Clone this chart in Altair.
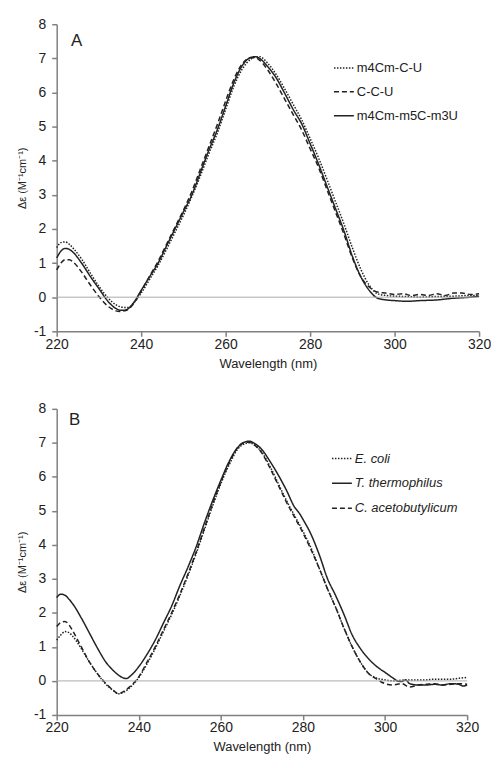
import altair as alt
import pandas as pd

# ---------------- Panel A data ----------------
wl_a_solid = [220,221,222,223,224,226,228,230,232,234,235,236,237,238,240,242,244,246,248,250,252,254,256,258,260,262,264,266,267,268,270,272,274,276,278,280,282,284,286,288,290,292,294,296,298,300,303,306,310,314,318,320]
a_solid = [1.15,1.35,1.43,1.4,1.3,0.98,0.6,0.25,-0.1,-0.33,-0.38,-0.38,-0.33,-0.2,0.2,0.6,1.0,1.5,2.0,2.5,3.0,3.65,4.3,4.9,5.6,6.3,6.8,7.03,7.05,7.0,6.75,6.42,5.97,5.5,5.08,4.5,3.9,3.25,2.6,1.95,1.2,0.6,0.2,-0.03,-0.08,-0.1,-0.12,-0.1,-0.08,-0.03,0.0,0.03]

wl_a_dot = [220,221,222,223,224,226,228,230,232,234,235,236,237,238,240,242,244,246,248,250,252,254,256,258,260,262,264,266,267,268,270,272,274,276,278,280,282,284,286,288,290,292,294,296,298,300,303,306,310,314,318,320]
a_dot = [1.45,1.6,1.62,1.55,1.42,1.1,0.7,0.32,0.0,-0.22,-0.28,-0.3,-0.3,-0.2,0.12,0.52,0.93,1.4,1.9,2.4,2.95,3.55,4.2,4.8,5.5,6.2,6.7,6.98,7.04,7.05,6.85,6.52,6.1,5.65,5.2,4.65,4.08,3.45,2.8,2.15,1.45,0.82,0.35,0.1,0.05,0.03,0.02,0.0,0.02,0.03,0.05,0.05]

wl_a_dash = [220,221,222,223,224,226,228,230,232,234,235,236,237,238,240,242,244,246,248,250,252,254,256,258,260,262,264,266,267,268,270,272,274,276,278,280,282,284,286,288,290,292,294,296,298,300,302,304,306,308,310,312,314,316,318,320]
a_dash = [0.8,1.0,1.1,1.1,1.02,0.72,0.35,0.02,-0.25,-0.4,-0.42,-0.4,-0.35,-0.22,0.18,0.62,1.05,1.55,2.05,2.55,3.1,3.75,4.4,5.05,5.75,6.4,6.85,7.02,7.02,6.95,6.65,6.25,5.8,5.35,4.9,4.35,3.8,3.15,2.5,1.85,1.15,0.6,0.3,0.15,0.12,0.08,0.1,0.05,0.08,0.05,0.1,0.05,0.12,0.12,0.08,0.1]

series_a = ["m4Cm-C-U", "C-C-U", "m4Cm-m5C-m3U"]

# ---------------- Panel B data ----------------
wl_b_solid = [220,221,222,223,224,226,228,230,232,234,236,237,238,240,242,244,246,248,250,252,254,256,258,260,262,264,266,267,268,270,272,274,276,278,279,280,282,284,286,288,290,292,294,296,298,300,302,303,304,305,306,308,310,312,314,316,318,319,320]
b_solid = [2.45,2.55,2.52,2.4,2.25,1.85,1.4,0.95,0.55,0.28,0.1,0.07,0.15,0.42,0.78,1.2,1.7,2.2,2.8,3.35,3.95,4.65,5.3,5.9,6.45,6.85,7.03,7.05,7.0,6.8,6.45,6.05,5.6,5.1,4.95,4.75,4.3,3.7,3.0,2.5,1.95,1.35,0.95,0.65,0.42,0.25,0.08,0.0,-0.02,0.03,-0.08,-0.12,-0.12,-0.1,-0.12,-0.08,-0.1,-0.15,-0.12]

wl_b_dash = [220,221,222,223,224,226,228,230,232,234,235,236,238,240,242,244,246,248,250,252,254,256,258,260,262,264,266,267,268,270,272,274,276,278,280,282,284,286,288,290,292,294,296,298,300,302,304,306,308,310,312,314,316,318,320]
b_dash = [1.6,1.72,1.75,1.65,1.45,1.0,0.55,0.2,-0.08,-0.3,-0.38,-0.33,-0.15,0.12,0.55,1.0,1.5,2.0,2.55,3.15,3.8,4.5,5.2,5.85,6.4,6.85,7.02,7.02,6.95,6.7,6.25,5.75,5.25,4.8,4.35,3.85,3.3,2.7,2.15,1.55,1.0,0.55,0.22,0.05,-0.08,-0.12,-0.08,-0.18,-0.12,-0.1,-0.08,-0.12,-0.1,-0.08,-0.1]

wl_b_dot = [220,221,222,223,224,226,228,230,232,234,235,236,238,240,242,244,246,248,250,252,254,256,258,260,262,264,266,267,268,270,272,274,276,278,280,282,284,286,288,290,292,294,296,298,300,302,304,306,308,310,312,314,316,318,320]
b_dot = [1.2,1.35,1.45,1.42,1.3,0.95,0.55,0.2,-0.1,-0.3,-0.38,-0.35,-0.18,0.1,0.5,0.95,1.45,1.95,2.5,3.1,3.75,4.45,5.15,5.8,6.35,6.8,6.98,7.0,6.95,6.72,6.3,5.8,5.3,4.85,4.4,3.9,3.3,2.7,2.15,1.55,1.0,0.55,0.22,0.08,0.03,0.0,0.02,0.03,0.03,0.03,0.05,0.05,0.05,0.08,0.1]

series_b = ["E. coli", "T. thermophilus", "C. acetobutylicum"]

x_ticks = [220, 240, 260, 280, 300, 320]
y_ticks = [-1, 0, 1, 2, 3, 4, 5, 6, 7, 8]

DOT = [1.5, 1.5]
DASH = [5, 3]
SOLID = [1, 0]

FONT = "Liberation Sans"
Y_TITLE = "\u0394\u03b5 (M\u207b\u00b9cm\u207b\u00b9)"


def frame(pairs):
    rows = []
    for name, xs, ys in pairs:
        for x, y in zip(xs, ys):
            rows.append({"series": name, "wl": x, "de": y})
    return pd.DataFrame(rows)


df_a = frame([(series_a[0], wl_a_dot, a_dot),
              (series_a[1], wl_a_dash, a_dash),
              (series_a[2], wl_a_solid, a_solid)])
df_b = frame([(series_b[0], wl_b_dot, b_dot),
              (series_b[1], wl_b_solid, b_solid),
              (series_b[2], wl_b_dash, b_dash)])

one = pd.DataFrame({"k": [0]})


def panel(df, names, dashes, letter, w, h, lx, ly, rowpad, italic, letter_xy):
    xaxis = alt.Axis(values=x_ticks, title="Wavelength (nm)", labelFlush=False, grid=False,
                     tickSize=5, labelPadding=1, titlePadding=6, labelOverlap=False,
                     labelExpr="datum.value + ''")
    yaxis = alt.Axis(values=y_ticks, tickCount=10, title=Y_TITLE, grid=False, tickSize=5,
                     labelPadding=6, titlePadding=6, titleFontSize=11, titleFontWeight="normal",
                     labelOverlap=False, labelSeparation=0, labelExpr="datum.value + ''")
    legend = alt.Legend(orient="none", legendX=lx, legendY=ly, title=None,
                        symbolType="stroke", symbolSize=400, symbolStrokeWidth=1.5,
                        symbolStrokeColor="#222", labelFontSize=13, labelFont=FONT,
                        labelColor="#222", labelOffset=2, rowPadding=rowpad, padding=0,
                        labelFontStyle="italic" if italic else "normal")
    lines = alt.Chart(df).mark_line(color="#222", strokeWidth=1.5, interpolate="monotone").encode(
        x=alt.X("wl:Q", scale=alt.Scale(domain=[220, 320], nice=False), axis=xaxis),
        y=alt.Y("de:Q", scale=alt.Scale(domain=[-1, 8], nice=False), axis=yaxis),
        strokeDash=alt.StrokeDash("series:N", scale=alt.Scale(domain=names, range=dashes),
                                  sort=names, legend=legend),
        detail="series:N",
    )
    zero = alt.Chart(one).mark_rule(color="#aaaaaa", strokeWidth=1).encode(y=alt.datum(0))
    label = alt.Chart(one).mark_text(fontSize=17, font=FONT, color="#222").encode(
        x=alt.value(letter_xy[0]), y=alt.value(letter_xy[1]), text=alt.value(letter))
    return alt.layer(lines, zero, label).properties(width=w, height=h)


pa = panel(df_a, series_a, [DOT, DASH, SOLID], "A", 425, 309, 278, 33, 6, False, (20, 17))
pb = panel(df_b, series_b, [DOT, SOLID, DASH], "B", 413, 308, 276, 39, 7, True, (18, 11))

chart = alt.vconcat(pa, pb, spacing=32).resolve_scale(strokeDash="independent").resolve_legend(
    strokeDash="independent"
).properties(padding={"left": 8, "top": 7, "right": 0, "bottom": 0}).configure_view(
    stroke=None
).configure_axis(
    domainColor="#808080", domainWidth=1.5, tickColor="#808080", tickWidth=1.5,
    labelFont=FONT, labelFontSize=14, labelColor="#222", titleFont=FONT,
    titleFontSize=13, titleColor="#222", titleFontWeight="normal"
).configure_axisY(labelOverlap=False)

chart.save("out.html", embed_options={"renderer": "svg", "actions": False})
